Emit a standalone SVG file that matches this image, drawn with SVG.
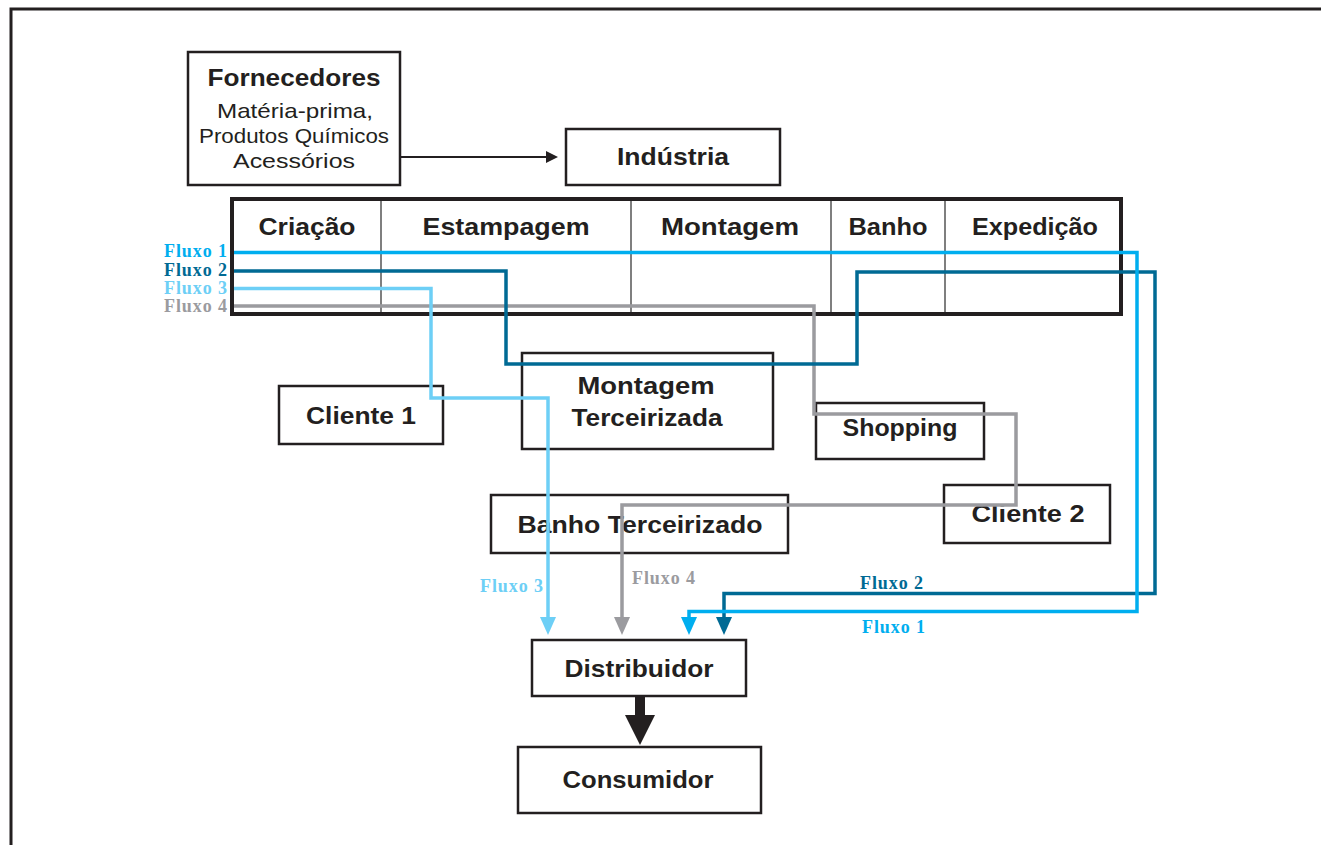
<svg xmlns="http://www.w3.org/2000/svg" width="1321" height="845" viewBox="0 0 1321 845">
<defs>
<style>
.box{fill:#fff;stroke:#231f20;stroke-width:2.5}
.t{font-family:"Liberation Sans",Arial,sans-serif;font-weight:bold;font-size:24px;fill:#231f20;text-anchor:middle}
.s{font-family:"Liberation Sans",Arial,sans-serif;font-size:21px;fill:#231f20;text-anchor:middle}
.f{font-family:"Liberation Serif","Times New Roman",serif;font-weight:bold;font-size:18px}
.ln{fill:none;stroke-width:3.5;stroke-linejoin:miter}
.c1{stroke:#00aeef}.c2{stroke:#006a94}.c3{stroke:#6dcff6}.c4{stroke:#9b9b9f}
</style>
<marker id="a1" markerUnits="userSpaceOnUse" viewBox="0 0 18 16" refX="0" refY="8" markerWidth="18" markerHeight="16" orient="auto"><path d="M0,0L18,8L0,16z" fill="#00aeef"/></marker>
<marker id="a2" markerUnits="userSpaceOnUse" viewBox="0 0 18 16" refX="0" refY="8" markerWidth="18" markerHeight="16" orient="auto"><path d="M0,0L18,8L0,16z" fill="#006a94"/></marker>
<marker id="a3" markerUnits="userSpaceOnUse" viewBox="0 0 18 16" refX="0" refY="8" markerWidth="18" markerHeight="16" orient="auto"><path d="M0,0L18,8L0,16z" fill="#6dcff6"/></marker>
<marker id="a4" markerUnits="userSpaceOnUse" viewBox="0 0 18 16" refX="0" refY="8" markerWidth="18" markerHeight="16" orient="auto"><path d="M0,0L18,8L0,16z" fill="#9b9b9f"/></marker>
</defs>
<rect width="1321" height="845" fill="#fff"/>
<path d="M11,845V9H1321" fill="none" stroke="#231f20" stroke-width="3"/>

<g id="fornecedores">
<rect class="box" x="188" y="52" width="212" height="133"/>
<text class="t" x="294" y="86" font-size="25" textLength="173" lengthAdjust="spacingAndGlyphs">Fornecedores</text>
<text class="s" x="295" y="118" textLength="156" lengthAdjust="spacingAndGlyphs">Matéria-prima,</text>
<text class="s" x="294" y="143" textLength="190" lengthAdjust="spacingAndGlyphs">Produtos Químicos</text>
<text class="s" x="294" y="168" textLength="122" lengthAdjust="spacingAndGlyphs">Acessórios</text>
</g>
<g id="industria">
<rect class="box" x="566" y="129" width="214" height="56"/>
<text class="t" x="673" y="165" textLength="112" lengthAdjust="spacingAndGlyphs">Indústria</text>
</g>
<g id="processos">
<rect x="232" y="199" width="889" height="115" fill="#fff" stroke="#231f20" stroke-width="4"/>
<g stroke="#555" stroke-width="1.5">
<line x1="381" y1="201" x2="381" y2="312"/>
<line x1="631" y1="201" x2="631" y2="312"/>
<line x1="831" y1="201" x2="831" y2="312"/>
<line x1="945" y1="201" x2="945" y2="312"/>
</g>
<text class="t" x="307" y="235" textLength="97" lengthAdjust="spacingAndGlyphs">Criação</text>
<text class="t" x="506" y="235" textLength="167" lengthAdjust="spacingAndGlyphs">Estampagem</text>
<text class="t" x="730" y="235" textLength="138" lengthAdjust="spacingAndGlyphs">Montagem</text>
<text class="t" x="888" y="235" textLength="79" lengthAdjust="spacingAndGlyphs">Banho</text>
<text class="t" x="1035" y="235" textLength="126" lengthAdjust="spacingAndGlyphs">Expedição</text>
</g>
<g id="cliente1">
<rect class="box" x="279" y="386" width="164" height="58"/>
<text class="t" x="361" y="424" textLength="110" lengthAdjust="spacingAndGlyphs">Cliente 1</text>
</g>
<g id="montagem-terceirizada">
<rect class="box" x="522" y="353" width="251" height="96"/>
<text class="t" x="646" y="394" textLength="137" lengthAdjust="spacingAndGlyphs">Montagem</text>
<text class="t" x="647" y="426" textLength="151" lengthAdjust="spacingAndGlyphs">Terceirizada</text>
</g>
<g id="shopping">
<rect class="box" x="816" y="403" width="168" height="56"/>
<text class="t" x="900" y="436" textLength="115" lengthAdjust="spacingAndGlyphs">Shopping</text>
</g>
<g id="cliente2">
<rect class="box" x="944" y="485" width="166" height="58"/>
<text class="t" x="1028" y="522" textLength="113" lengthAdjust="spacingAndGlyphs">Cliente 2</text>
</g>
<g id="banho-terceirizado">
<rect class="box" x="491" y="495" width="297" height="58"/>
<text class="t" x="640" y="533" textLength="245" lengthAdjust="spacingAndGlyphs">Banho Terceirizado</text>
</g>
<g id="distribuidor">
<rect class="box" x="532" y="640" width="214" height="56"/>
<text class="t" x="639" y="677" textLength="149" lengthAdjust="spacingAndGlyphs">Distribuidor</text>
</g>
<g id="consumidor">
<rect class="box" x="518" y="747" width="243" height="66"/>
<text class="t" x="638" y="788" textLength="151" lengthAdjust="spacingAndGlyphs">Consumidor</text>
</g>

<g id="connectors">
<line x1="401" y1="157" x2="546" y2="157" stroke="#231f20" stroke-width="2"/>
<path d="M546,151L558,157L546,163z" fill="#231f20"/>
<path d="M635,697H645V715H655L640,745L625,715H635z" fill="#231f20"/>
<path class="ln c4" d="M234,306H814V414H1016V505H622V617" marker-end="url(#a4)"/>
<path class="ln c3" d="M234,288.5H431V398H548V617" marker-end="url(#a3)"/>
<path class="ln c2" d="M234,271H506V364H857V272H1155V593.5H724V617" marker-end="url(#a2)"/>
<path class="ln c1" d="M234,252.5H1137V611.5H689V617" marker-end="url(#a1)"/>
</g>

<g id="labels">
<text class="f" x="164" y="257" fill="#00aeef" textLength="63" lengthAdjust="spacing">Fluxo 1</text>
<text class="f" x="164" y="276" fill="#006a94" textLength="63" lengthAdjust="spacing">Fluxo 2</text>
<text class="f" x="164" y="294" fill="#6dcff6" textLength="63" lengthAdjust="spacing">Fluxo 3</text>
<text class="f" x="164" y="312" fill="#9b9b9f" textLength="63" lengthAdjust="spacing">Fluxo 4</text>
<text class="f" x="480" y="592" fill="#6dcff6" textLength="63" lengthAdjust="spacing">Fluxo 3</text>
<text class="f" x="632" y="584" fill="#9b9b9f" textLength="63" lengthAdjust="spacing">Fluxo 4</text>
<text class="f" x="860" y="589" fill="#006a94" textLength="63" lengthAdjust="spacing">Fluxo 2</text>
<text class="f" x="862" y="633" fill="#00aeef" textLength="63" lengthAdjust="spacing">Fluxo 1</text>
</g>
</svg>
